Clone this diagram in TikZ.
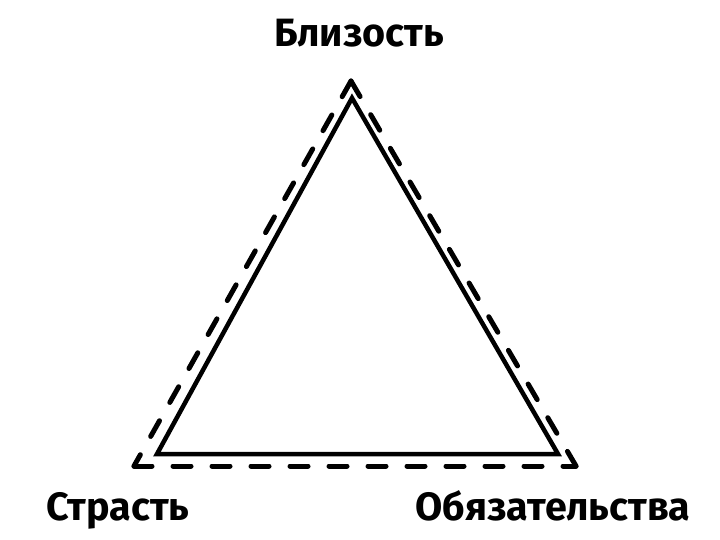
\documentclass[tikz,border=0pt]{standalone}
\usepackage{fontspec}
\setmainfont{Fira Sans}
\usetikzlibrary{positioning}
\begin{document}
\begin{tikzpicture}
%defines
  [x=1pt,y=-1pt,
label/.style={font=\bfseries\fontsize{39.5}{39.5}\selectfont,inner sep=0pt,anchor=base},
solidside/.style={line width=4.5pt,line join=miter},
dashside/.style={line width=5pt,dash pattern=on 18pt off 21pt,line cap=round}]
\useasboundingbox (0,0) rectangle (720,540);
\coordinate (top) at (352,98);
\coordinate (left) at (157,454);
\coordinate (right) at (558,454);
\coordinate (top out) at (351,81);
\coordinate (left out) at (134,466);
\coordinate (right out) at (576,466);
\draw[solidside] (top) -- (left) -- (right) -- cycle;
% outer dashed sides, each begins on a dash at its corner
\draw[dashside] (top out) -- (left out);
\draw[dashside] (top out) -- (right out);
\draw[dashside] (left out) -- (right out);
\node[label] (closeness) at (359,47) {Близость};
\node[label] (passion) at (118,520) {Страсть};
\node[label] (commitment) at (553,520) {Обязательства};
\end{tikzpicture}
\end{document}
